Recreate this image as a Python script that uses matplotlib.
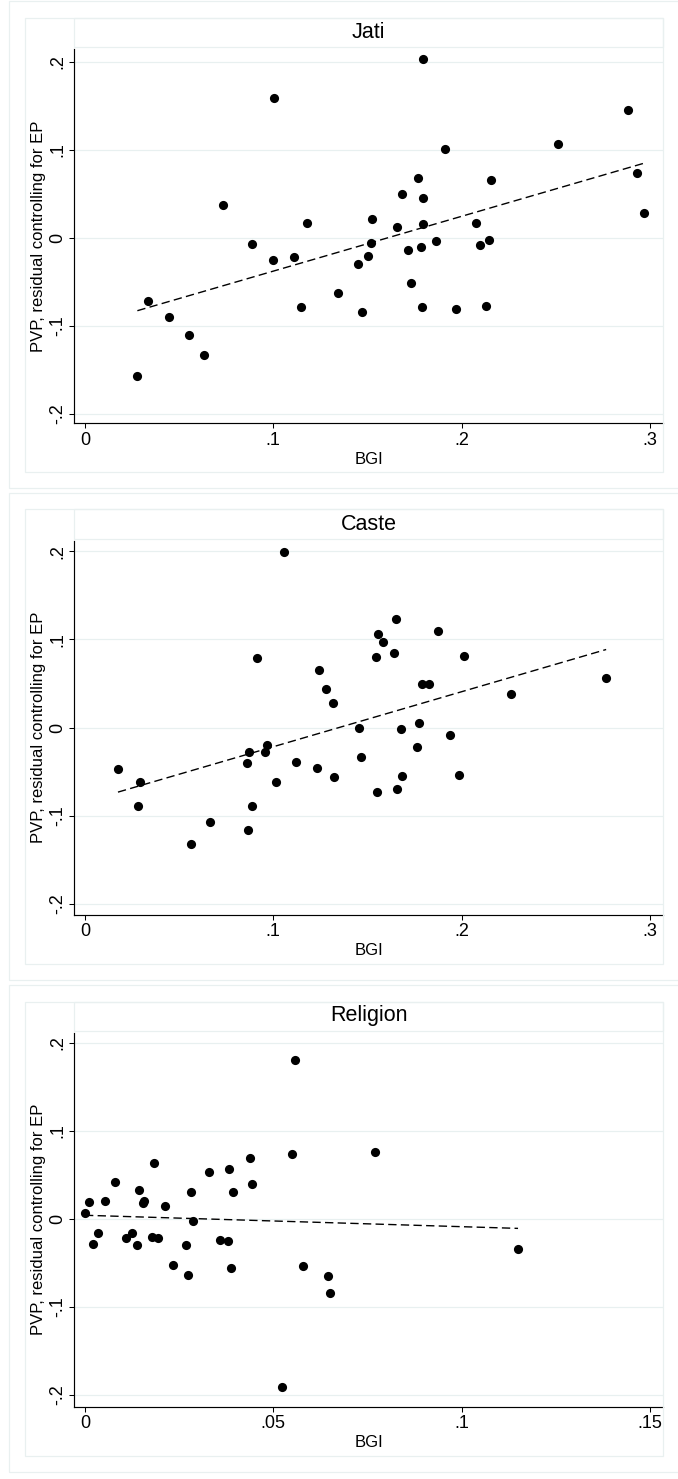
import matplotlib
matplotlib.use("Agg")
import matplotlib.pyplot as plt
from matplotlib.patches import Rectangle
import numpy as np

plt.rcParams['font.family'] = ['Liberation Sans', 'DejaVu Sans']
plt.rcParams['lines.scale_dashes'] = False

# ---------------- data ----------------
titles = ["Jati", "Caste", "Religion"]
x_label = "BGI"
y_label = "PVP, residual controlling for EP"

jati_x = [0.0278, 0.0335, 0.0448, 0.0553, 0.0634, 0.0734, 0.0888, 0.1004, 0.0998, 0.1111,
          0.1148, 0.1177, 0.1345, 0.1450, 0.1471, 0.1501, 0.1520, 0.1523, 0.1659, 0.1682,
          0.1713, 0.1730, 0.1767, 0.1793, 0.1797, 0.1797, 0.1786, 0.1792, 0.1866, 0.1910,
          0.1973, 0.2075, 0.2098, 0.2146, 0.2132, 0.2156, 0.2510, 0.2885, 0.2933, 0.2969]
jati_y = [-0.157, -0.072, -0.090, -0.110, -0.133, 0.038, -0.007, 0.159, -0.025, -0.021,
          -0.078, 0.017, -0.063, -0.029, -0.0845, -0.020, -0.006, 0.022, 0.013, 0.050,
          -0.014, -0.0515, 0.068, 0.045, 0.0155, 0.204, -0.010, -0.078, -0.003, 0.1015,
          -0.081, 0.017, -0.008, -0.002, -0.077, 0.066, 0.107, 0.146, 0.074, 0.029]

caste_x = [0.0175, 0.0292, 0.0283, 0.0565, 0.0663, 0.0863, 0.0888, 0.0861, 0.0872, 0.0915,
           0.0955, 0.0964, 0.1017, 0.1057, 0.1120, 0.1232, 0.1243, 0.1280, 0.1315, 0.1320,
           0.1453, 0.1466, 0.1547, 0.1551, 0.1554, 0.1581, 0.1643, 0.1652, 0.1657, 0.1677,
           0.1684, 0.1765, 0.1774, 0.1788, 0.1828, 0.1876, 0.1937, 0.1989, 0.2011, 0.2261,
           0.2768]
caste_y = [-0.047, -0.062, -0.089, -0.132, -0.107, -0.116, -0.089, -0.0405, -0.028, 0.079,
           -0.028, -0.020, -0.062, 0.199, -0.039, -0.0455, 0.065, 0.044, 0.028, -0.0557,
           0.000, -0.034, 0.080, -0.0726, 0.1066, 0.097, 0.084, 0.123, -0.070, -0.002,
           -0.0545, -0.022, 0.0055, 0.049, 0.049, 0.110, -0.008, -0.0534, 0.081, 0.0375,
           0.056]

religion_x = [0.0558, 0.0549, 0.0438, 0.0443, 0.0383, 0.0394, 0.0330, 0.0282, 0.0286, 0.0182,
              0.0212, 0.0144, 0.0157, 0.0155, 0.0080, 0.0053, 0.0011, 0.0000, 0.0771, 0.0021,
              0.0034, 0.0108, 0.0124, 0.0137, 0.0178, 0.0195, 0.0234, 0.0269, 0.0274, 0.0358,
              0.0380, 0.0388, 0.0578, 0.0645, 0.0651, 0.0524, 0.1150]
religion_y = [0.180, 0.073, 0.0688, 0.0397, 0.0567, 0.0306, 0.0526, 0.0299, -0.0026, 0.0639,
              0.0148, 0.0325, 0.0204, 0.0175, 0.0416, 0.0201, 0.0186, 0.0061, 0.076, -0.0283,
              -0.0166, -0.0222, -0.0159, -0.0302, -0.0204, -0.0219, -0.0521, -0.0302, -0.0638, -0.0241,
              -0.0256, -0.0559, -0.054, -0.0653, -0.0839, -0.1908, -0.034]

# fitted lines (slope, intercept)
fit_slope = [0.6228, 0.6238, -0.1296]
fit_intercept = [-0.0999, -0.0842, 0.0039]

xticks_main = [0, 0.1, 0.2, 0.3]
xticklabels_main = ["0", ".1", ".2", ".3"]
xticks_rel = [0, 0.05, 0.1, 0.15]
xticklabels_rel = ["0", ".05", ".1", ".15"]
yticks = [-0.2, -0.1, 0, 0.1, 0.2]
yticklabels = ["-.2", "-.1", "0", ".1", ".2"]

# ---------------- layout ----------------
W, H = 678, 1479
fig = plt.figure(figsize=(W / 100, H / 100), dpi=100)
fig.patch.set_facecolor("white")

def fx(px):
    return px / W

def fy(py):
    return 1 - py / H

box_color = "#E9F0F0"
grid_color = "#E8F0F0"

datasets = [(jati_x, jati_y, xticks_main, xticklabels_main, (-0.0057, 0.307), (-0.2102, 0.2148)),
            (caste_x, caste_y, xticks_main, xticklabels_main, (-0.0057, 0.307), (-0.2121, 0.2121)),
            (religion_x, religion_y, xticks_rel, xticklabels_rel, (-0.00284, 0.1535), (-0.2135, 0.2117))]
offsets = [0, 491.5, 983.5]

left_px, right_px = 74.3, 663
for i, (xs, ys, xt, xtl, xl, yl) in enumerate(datasets):
    off = offsets[i]
    top_px, bot_px = 49 + off, 423 + off

    # background boxes (graph region, plot region, title box)
    fig.add_artist(Rectangle((fx(9), fy(488 + off)), fx(W + 20 - 9), (488 - 1) / H,
                             transform=fig.transFigure, fill=False, ec=box_color, lw=0.9))
    fig.add_artist(Rectangle((fx(25), fy(472 + off)), fx(right_px - 25), (472 - 18) / H,
                             transform=fig.transFigure, fill=False, ec=box_color, lw=0.9))
    fig.add_artist(Rectangle((fx(left_px), fy(47 + off)), fx(right_px - left_px), (47 - 18) / H,
                             transform=fig.transFigure, fill=False, ec=box_color, lw=0.9))

    ax = fig.add_axes([fx(left_px), fy(bot_px), fx(right_px - left_px), (bot_px - top_px) / H])
    ax.set_facecolor("none")
    ax.set_xlim(*xl)
    ax.set_ylim(*yl)

    ax.plot(xs, ys, linestyle="none", marker="o", ms=6.6, mfc="black", mec="none", zorder=3)

    xs_arr = np.array(xs)
    lx = np.array([xs_arr.min(), xs_arr.max()])
    ly = fit_slope[i] * lx + fit_intercept[i]
    line, = ax.plot(lx, ly, color="black", lw=1.0, zorder=2)
    line.set_dashes([6, 3.1])

    ax.set_xticks(xt)
    ax.set_xticklabels(xtl)
    ax.set_yticks(yticks)
    ax.set_yticklabels(yticklabels, rotation=90, va="center")
    ax.tick_params(axis="x", length=3.6, width=0.75, pad=2.7, labelsize=13, colors="black")
    ax.tick_params(axis="y", length=3.6, width=0.75, pad=2.4, labelsize=13, colors="black")

    ax.grid(axis="y", color=grid_color, lw=0.9)
    ax.grid(axis="x", visible=False)
    ax.set_axisbelow(True)

    for s in ["top", "right"]:
        ax.spines[s].set_visible(False)
    for s in ["left", "bottom"]:
        ax.spines[s].set_linewidth(0.85)
        ax.spines[s].set_color("black")

    ax.set_xlabel(x_label, fontsize=12, va="center")
    ax.xaxis.set_label_coords(0.5, -(459 - 423) / (bot_px - top_px))
    ax.set_ylabel(y_label, fontsize=12, va="center")
    ax.yaxis.set_label_coords(-(left_px - 38.3) / (right_px - left_px), 0.5)

    ax.set_title(titles[i], fontsize=15.5, y=1 + (49 - 32.5) / (bot_px - top_px), pad=0, va="center")

fig.savefig("out.png", dpi=100, facecolor="white")
